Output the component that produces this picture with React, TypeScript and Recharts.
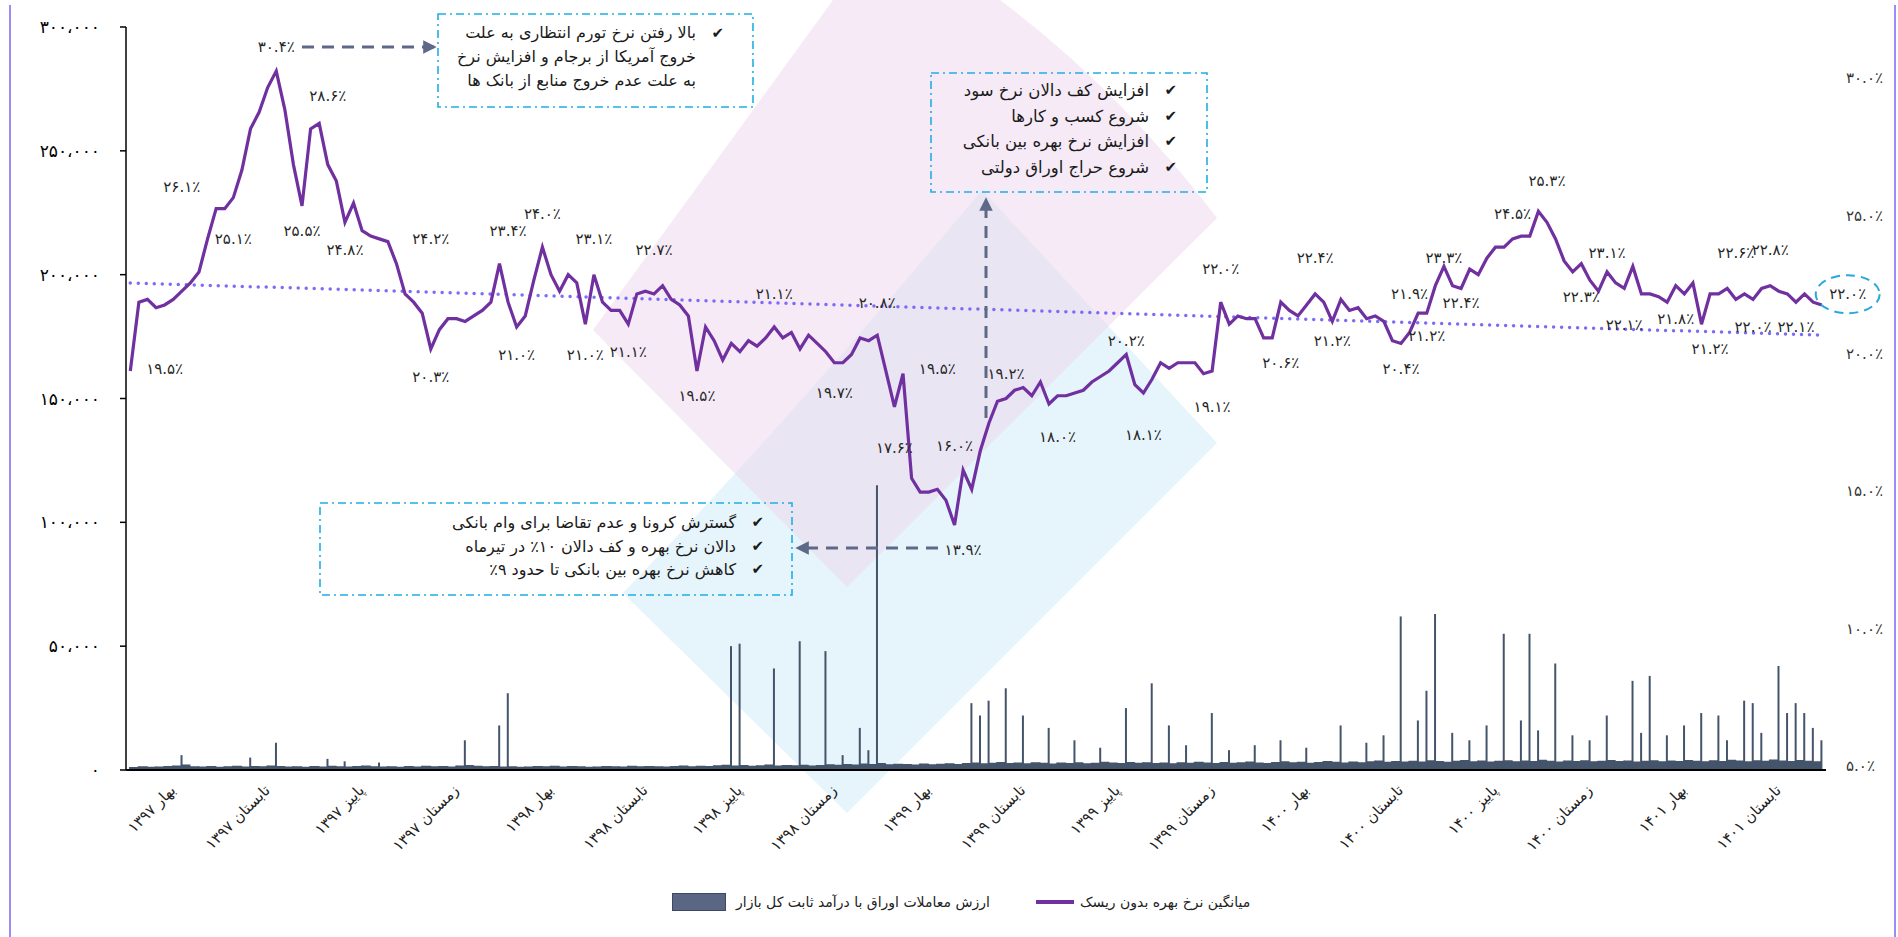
import React from 'react';
import { ComposedChart, Line, Bar, Area, XAxis, YAxis, ReferenceLine, ReferenceDot, Legend } from 'recharts';

const FONT = '"DejaVu Sans", sans-serif';

// quarter names shown under the x axis, one label every PER_QUARTER points
const quarterLabels = [
  'بهار ۱۳۹۷', 'تابستان ۱۳۹۷', 'پاییز ۱۳۹۷', 'زمستان ۱۳۹۷',
  'بهار ۱۳۹۸', 'تابستان ۱۳۹۸', 'پاییز ۱۳۹۸', 'زمستان ۱۳۹۸',
  'بهار ۱۳۹۹', 'تابستان ۱۳۹۹', 'پاییز ۱۳۹۹', 'زمستان ۱۳۹۹',
  'بهار ۱۴۰۰', 'تابستان ۱۴۰۰', 'پاییز ۱۴۰۰', 'زمستان ۱۴۰۰',
  'بهار ۱۴۰۱', 'تابستان ۱۴۰۱',
];
const FIRST_TICK = 5;
const PER_QUARTER = 11;

// average risk-free rate (%), right axis
const riskFreeRate = [
  19.5, 22.0, 22.1, 21.8, 21.9, 22.1, 22.4, 22.7, 23.1, 24.3,
  25.4, 25.4, 25.8, 26.8, 28.3, 28.9, 29.8, 30.4, 29.0, 27.0,
  25.5, 28.3, 28.5, 27.0, 26.4, 24.9, 25.6, 24.6, 24.4, 24.3,
  24.2, 23.4, 22.3, 22.0, 21.6, 20.3, 21.0, 21.4, 21.4, 21.3,
  21.5, 21.7, 22.0, 23.4, 22.0, 21.1, 21.5, 22.8, 24.0, 23.0,
  22.4, 23.0, 22.7, 21.2, 23.0, 22.0, 21.7, 21.7, 21.2, 22.3,
  22.4, 22.3, 22.6, 22.1, 21.9, 21.5, 19.5, 21.1, 20.6, 19.9,
  20.5, 20.2, 20.6, 20.4, 20.7, 21.1, 20.7, 20.9, 20.3, 20.8,
  20.5, 20.2, 19.8, 19.8, 20.1, 20.7, 20.6, 20.8, 19.5, 18.2,
  19.4, 15.6, 15.1, 15.1, 15.2, 14.8, 13.9, 15.9, 15.2, 16.6,
  17.6, 18.4, 18.5, 18.8, 18.9, 18.6, 19.1, 18.3, 18.6, 18.6,
  18.7, 18.8, 19.1, 19.3, 19.5, 19.8, 20.1, 19.0, 18.7, 19.2,
  19.8, 19.6, 19.8, 19.8, 19.8, 19.4, 19.5, 22.0, 21.2, 21.5,
  21.4, 21.4, 20.7, 20.7, 22.0, 21.7, 21.5, 21.9, 22.3, 22.0,
  21.3, 22.1, 21.7, 21.8, 21.4, 21.5, 21.3, 20.6, 20.5, 20.9,
  21.6, 21.6, 22.6, 23.3, 22.6, 22.5, 23.2, 23.0, 23.6, 24.0,
  24.0, 24.3, 24.4, 24.4, 25.3, 24.9, 24.3, 23.5, 23.1, 23.4,
  22.8, 22.4, 23.1, 22.7, 22.5, 23.3, 22.3, 22.3, 22.2, 22.0,
  22.6, 22.3, 22.7, 21.2, 22.3, 22.3, 22.5, 22.1, 22.3, 22.1,
  22.5, 22.6, 22.4, 22.3, 22.0, 22.3, 22.0, 21.9,
];

// fixed-income trading value, left axis
const tradeValue = [
  1200, 1500, 1300, 1400, 1600, 1800, 6000, 1500, 1400, 1600,
  1300, 1500, 1700, 1400, 5000, 1500, 1800, 11000, 1400, 1500,
  1300, 1600, 1400, 4500, 1500, 3500, 1600, 1800, 1500, 3000,
  1500, 1300, 1600, 1400, 1700, 1500, 1600, 1400, 1800, 12000,
  1700, 1500, 1600, 18000, 31000, 1300, 1400, 1600, 1500, 1700,
  1400, 1600, 1500, 1300, 1400, 1600, 1500, 1400, 1700, 1500,
  1600, 1500, 1400, 1600, 1800, 1500, 1700, 1600, 1900, 2100,
  50000, 51000, 1700, 1900, 2200, 41000, 2000, 1900, 52000, 1800,
  2000, 48000, 2100, 6000, 2200, 17000, 8000, 115000, 2300, 2500,
  2400, 2200, 2600, 2300, 2500, 2700, 2400, 2800, 27000, 22000,
  28000, 3200, 33000, 3000, 22000, 3100, 2900, 17000, 3000, 2800,
  12000, 2700, 2900, 9000, 3000, 2800, 25000, 2900, 3100, 35000,
  3000, 18000, 3100, 10000, 3300, 3000, 23000, 3200, 8000, 3100,
  3400, 10000, 2800, 3200, 12000, 3100, 3300, 9000, 3200, 3600,
  3300, 18000, 3400, 3100, 11000, 3800, 14000, 3600, 62000, 3700,
  20000, 32000, 63000, 3300, 15000, 4000, 12000, 3800, 18000, 3700,
  55000, 3500, 20000, 55000, 16000, 3700, 43000, 3800, 14000, 3900,
  12000, 3700, 22000, 3600, 3800, 36000, 15000, 38000, 3500, 14000,
  3600, 18000, 3700, 23000, 3900, 22000, 12000, 3800, 28000, 27000,
  15000, 4200, 42000, 23000, 27000, 23000, 17000, 12000,
];

// low day-to-day floor of the trading value (the dark strip along the axis)
const tradeFloor = [
  1200, 1500, 1300, 1400, 1600, 1800, 2200, 1500, 1400, 1600,
  1300, 1500, 1700, 1400, 1600, 1500, 1800, 1600, 1400, 1500,
  1300, 1600, 1400, 1700, 1500, 1400, 1600, 1800, 1500, 1400,
  1500, 1300, 1600, 1400, 1700, 1500, 1600, 1400, 1800, 2000,
  1700, 1500, 1600, 1400, 1500, 1300, 1400, 1600, 1500, 1700,
  1400, 1600, 1500, 1300, 1400, 1600, 1500, 1400, 1700, 1500,
  1600, 1500, 1400, 1600, 1800, 1500, 1700, 1600, 1900, 2100,
  1800, 2000, 1700, 1900, 2200, 1800, 2000, 1900, 2100, 1800,
  2000, 2300, 2100, 2400, 2200, 2600, 2400, 2800, 2300, 2500,
  2400, 2200, 2600, 2300, 2500, 2700, 2400, 2800, 3000, 2700,
  2900, 3200, 2800, 3000, 2700, 3100, 2900, 2600, 3000, 2800,
  3100, 2700, 2900, 3300, 3000, 2800, 3200, 2900, 3100, 2800,
  3000, 2700, 3100, 2900, 3300, 3000, 2800, 3200, 2900, 3100,
  3400, 3000, 2800, 3200, 3500, 3100, 3300, 2900, 3200, 3600,
  3300, 3000, 3400, 3100, 3500, 3800, 3300, 3600, 3400, 3700,
  3400, 3900, 3600, 3300, 3700, 4000, 3500, 3800, 3400, 3700,
  3900, 3500, 3800, 3600, 4100, 3700, 3400, 3800, 3600, 3900,
  3500, 3700, 4000, 3600, 3800, 3400, 3700, 3900, 3500, 3800,
  3600, 4000, 3700, 3500, 3900, 3600, 4100, 3800, 3500, 3900,
  3700, 4200, 3800, 3600, 4000, 3700, 3500, 3900,
];

const volumeTicks = [0, 50000, 100000, 150000, 200000, 250000, 300000];
const rateTicks = [5, 10, 15, 20, 25, 30];

// linear trend of the rate, first and last point
const trendStart = 22.7;
const trendEnd = 20.8;

// [point index, level on the rate axis where the note sits, value written]
const callouts: [number, number, number][] = [
  [17, 31.3, 30.4], [6, 26.2, 26.1], [4, 19.6, 19.5], [12, 24.3, 25.1],
  [20, 24.6, 25.5], [23, 29.5, 28.6], [25, 23.9, 24.8], [35, 24.3, 24.2],
  [35, 19.3, 20.3], [44, 24.6, 23.4], [48, 25.2, 24.0], [45, 20.1, 21.0],
  [54, 24.3, 23.1], [53, 20.1, 21.0], [58, 20.2, 21.1], [61, 23.9, 22.7],
  [66, 18.6, 19.5], [75, 22.3, 21.1], [87, 22.0, 20.8], [82, 18.7, 19.7],
  [94, 19.6, 19.5], [89, 16.7, 17.6], [96, 16.8, 16.0], [97, 13.0, 13.9],
  [102, 19.4, 19.2], [108, 17.1, 18.0], [116, 20.6, 20.2], [118, 17.2, 18.1],
  [126, 18.2, 19.1], [127, 23.2, 22.0], [134, 19.8, 20.6], [138, 23.6, 22.4],
  [140, 20.6, 21.2], [148, 19.6, 20.4], [149, 22.3, 21.9], [151, 20.8, 21.2],
  [153, 23.6, 23.3], [155, 22.0, 22.4], [161, 25.2, 24.5], [165, 26.4, 25.3],
  [172, 23.8, 23.1], [169, 22.2, 22.3], [174, 21.2, 22.1], [180, 21.4, 21.8],
  [184, 20.3, 21.2], [187, 23.8, 22.6], [191, 23.9, 22.8], [189, 21.1, 22.0],
  [194, 21.1, 22.1],
];
const lastRate = 22.0;

const noteTop = ['بالا رفتن نرخ تورم انتظاری به علت', 'خروج آمریکا از برجام و افزایش نرخ', 'به علت عدم خروج منابع از بانک ها'];
const noteMid = ['افزایش کف دالان نرخ سود', 'شروع کسب و کارها', 'افزایش نرخ بهره بین بانکی', 'شروع حراج اوراق دولتی'];
const noteLow = ['گسترش کرونا و عدم تقاضا برای وام بانکی', 'دالان نرخ بهره و کف دالان ۱۰٪ در تیرماه', 'کاهش نرخ بهره بین بانکی تا حدود ۹٪'];

const faDigits = '۰۱۲۳۴۵۶۷۸۹';
const toFa = (s: string) => s.replace(/[0-9]/g, (d) => faDigits[Number(d)]);
const pct = (v: number) => toFa(v.toFixed(1)) + '٪';
const thousands = (v: number) => toFa(v.toLocaleString('en-US')).replace(/,/g, '،');

function QuarterTick(props: any) {
  const { x, y, payload } = props;
  const k = (Number(payload.value) - FIRST_TICK) / PER_QUARTER;
  if (!Number.isInteger(k) || k < 0 || k >= quarterLabels.length) return <g />;
  const ty = y + 10;
  return (
    <text x={x} y={ty} dy="0.3em" transform={`rotate(-45 ${x} ${ty})`} textAnchor="end"
      fontSize={15} fill="#222" fontFamily={FONT}>
      {quarterLabels[k]}
    </text>
  );
}

function EndBadge(props: any) {
  const { viewBox } = props;
  const cx = viewBox.x + viewBox.width / 2 + 26;
  const cy = viewBox.y + viewBox.height / 2 - 8;
  return (
    <g>
      <ellipse cx={cx} cy={cy} rx={32} ry={19} fill="none" stroke="#2AA7DF" strokeWidth={2} strokeDasharray="9 6" />
      <text x={cx} y={cy} dy="0.35em" textAnchor="middle" fontSize={15} fill="#262626" fontFamily={FONT}>{pct(lastRate)}</text>
    </g>
  );
}

function LegendContent(props: any) {
  const items = (props.payload || []).filter((p: any) => p.type !== 'none');
  const order = ['trade', 'rate'];
  items.sort((a: any, b: any) => order.indexOf(a.dataKey) - order.indexOf(b.dataKey));
  return (
    <div style={{ display: 'flex', alignItems: 'center', fontFamily: FONT, fontSize: 14, color: '#222' }}>
      {items.map((it: any) => (
        <div key={it.dataKey} style={{ display: 'flex', alignItems: 'center', marginRight: 46 }}>
          {it.dataKey === 'trade' ? (
            <span style={{ display: 'inline-block', width: 52, height: 16, background: '#5B6685', border: '1.5px solid #3D4862', marginRight: 10 }} />
          ) : (
            <span style={{ display: 'inline-block', width: 38, height: 4, background: '#7030A0', marginRight: 6 }} />
          )}
          <span style={{ direction: 'rtl' }}>{it.value}</span>
        </div>
      ))}
    </div>
  );
}

function Backdrop() {
  return (
    <svg width={1898} height={937} style={{ position: 'absolute', left: 0, top: 0 }}>
      <path d="M623,593 Q790,420 982,190 L1217,443 L847,813 Z" fill="#CDEBF8" fillOpacity={0.5} />
      <path d="M593,330 L833,0 L1000,0 Q1120,90 1217,218 L847,587 Z" fill="#EBD6EB" fillOpacity={0.5} />
    </svg>
  );
}

function Notes() {
  const border = { fill: 'none', stroke: '#1FAEE6', strokeWidth: 1.6, strokeDasharray: '8 4 2 4' };
  const arrow = { stroke: '#5E6987', strokeWidth: 3, strokeDasharray: '12 8', markerEnd: 'url(#head)' };
  const box = (left: number, top: number, width: number, lines: string[], lineH: number, size: number, checks: boolean[]) => (
    <div style={{ position: 'absolute', left, top, width, direction: 'rtl', fontFamily: FONT, fontSize: size, color: '#1a1a1a' }}>
      {lines.map((t, i) => (
        <div key={i} style={{ height: lineH, lineHeight: `${lineH}px`, whiteSpace: 'nowrap', position: 'relative', paddingRight: 34 }}>
          {checks[i] && <span style={{ position: 'absolute', right: 6, top: 0, fontSize: 15 }}>✔</span>}
          {t}
        </div>
      ))}
    </div>
  );
  return (
    <>
      <svg width={1898} height={937} style={{ position: 'absolute', left: 0, top: 0, pointerEvents: 'none' }}>
        <defs>
          <marker id="head" viewBox="0 0 10 10" refX="8" refY="5" markerWidth="4.5" markerHeight="4.5" orient="auto">
            <path d="M0,0 L10,5 L0,10 Z" fill="#5E6987" />
          </marker>
        </defs>
        <rect x={438} y={14} width={315} height={93} {...border} />
        <rect x={931} y={73} width={276} height={119} {...border} />
        <rect x={320} y={503} width={472} height={92} {...border} />
        <line x1={302} y1={47} x2={434} y2={47} {...arrow} />
        <line x1={986} y1={418} x2={986} y2={200} {...arrow} />
        <line x1={938} y1={548} x2={798} y2={548} {...arrow} />
      </svg>
      {box(438, 21, 292, noteTop, 24, 16, [true, false, false])}
      {box(931, 78, 252, noteMid, 25.5, 16.5, [true, true, true, true])}
      {box(320, 511, 450, noteLow, 23.5, 16, [true, true, true])}
    </>
  );
}

export default function App() {
  const rows = riskFreeRate.map((rate, idx) => ({ idx, rate, trade: tradeValue[idx], floor: tradeFloor[idx] }));
  return (
    <div style={{ position: 'absolute', left: 0, top: 0, width: 1898, height: 937, background: '#fff', overflow: 'hidden', fontFamily: FONT }}>
      <Backdrop />
      <div style={{ position: 'absolute', left: 9, top: 5, width: 2, height: 932, background: '#9B8CF6' }} />
      <div style={{ position: 'absolute', left: 1894, top: 5, width: 2, height: 932, background: '#9B8CF6' }} />
      <div style={{ position: 'absolute', left: 0, top: 0 }}>
        <ComposedChart width={1898} height={937} data={rows} margin={{ top: 27, right: 0, bottom: 107, left: 0 }}>
          <XAxis dataKey="idx" interval={0} height={60} tickLine={false}
            axisLine={{ stroke: '#000', strokeWidth: 2 }} tick={<QuarterTick />} />
          <YAxis yAxisId="vol" domain={[0, 300000]} ticks={volumeTicks} width={126} tickSize={6} tickMargin={20}
            axisLine={{ stroke: '#000', strokeWidth: 1.5 }} tickLine={{ stroke: '#000', strokeWidth: 1.5 }}
            tick={{ fontSize: 17, fill: '#000', fontFamily: FONT }} tickFormatter={thousands} />
          <YAxis yAxisId="rate" orientation="right" domain={[5, 32]} ticks={rateTicks} width={72}
            axisLine={false} tickLine={false} tickSize={0} tickMargin={20}
            tick={{ fontSize: 15, fill: '#333', fontFamily: FONT, dy: -4 }} tickFormatter={pct} />
          <Area yAxisId="vol" dataKey="floor" type="stepAfter" fill="#44546A" fillOpacity={1} stroke="none"
            legendType="none" isAnimationActive={false} />
          <Bar yAxisId="vol" dataKey="trade" name="ارزش معاملات اوراق با درآمد ثابت کل بازار" fill="#44546A"
            barSize={2} isAnimationActive={false} />
          <ReferenceLine yAxisId="rate" segment={[{ x: 0, y: trendStart }, { x: riskFreeRate.length - 1, y: trendEnd }]}
            stroke="#7C6CF5" strokeWidth={3.5} strokeDasharray="0 8" strokeLinecap="round" />
          <Line yAxisId="rate" dataKey="rate" name="میانگین نرخ بهره بدون ریسک" type="linear" stroke="#7030A0"
            strokeWidth={3.2} dot={false} isAnimationActive={false} />
          {callouts.map(([i, level, value], n) => (
            <ReferenceDot key={n} yAxisId="rate" x={i} y={level} r={0} ifOverflow="visible"
              label={{ value: pct(value), position: 'center', fontSize: 15, fill: '#262626', fontFamily: FONT }} />
          ))}
          <ReferenceDot yAxisId="rate" x={riskFreeRate.length - 1} y={lastRate} r={0} ifOverflow="visible" label={<EndBadge />} />
          <Legend verticalAlign="middle" align="center" layout="horizontal" content={<LegendContent />}
            wrapperStyle={{ top: 893, left: 672, width: 800, height: 26 }} />
        </ComposedChart>
      </div>
      <Notes />
    </div>
  );
}
